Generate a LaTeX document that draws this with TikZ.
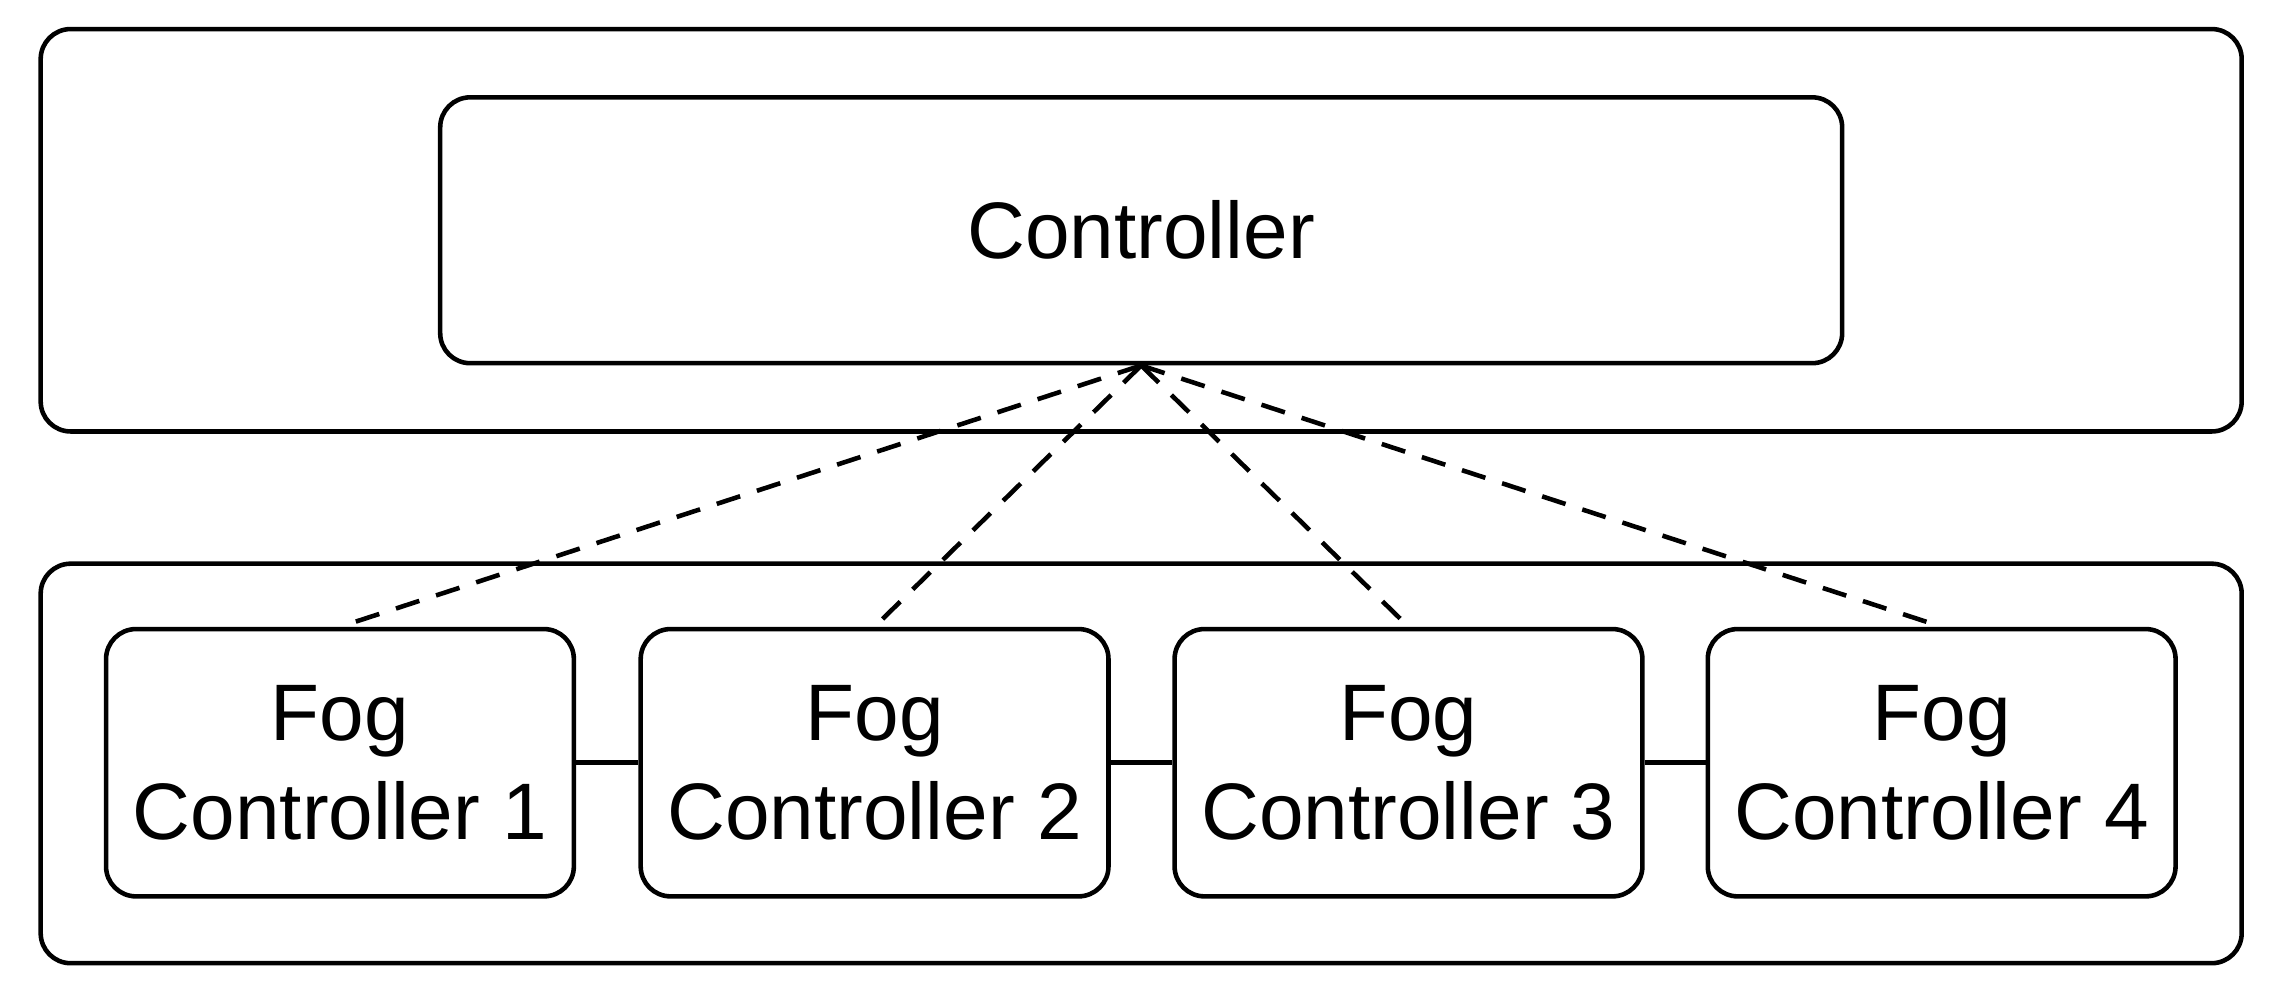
\documentclass[tikz,border=0pt]{standalone}
\usepackage{fontspec}
\setmainfont{Liberation Sans}
\begin{document}
\begin{tikzpicture}[x=0.01453cm,y=-0.01453cm,
  box/.style={draw,line width=1.3pt,rounded corners=0.3cm},
  txt/.style={font=\fontsize{22.8}{28}\selectfont,align=center},
  dashlink/.style={line width=1.3pt,dash pattern=on 7pt off 5pt}]
\useasboundingbox (0,0) rectangle (1568,690);
\draw[box] (28,20) rectangle (1543,297);
\draw[box] (28,388) rectangle (1543,663);
\node[box,minimum width=965*0.01453cm,minimum height=183*0.01453cm,txt] (c) at (785.5,158.5) {Controller};
\foreach \i/\x in {1/234,2/602,3/969.5,4/1336.5}{
  \node[box,minimum width=322*0.01453cm,minimum height=184*0.01453cm,txt,inner sep=0pt] (f\i) at (\x,525) {Fog\\Controller \i};
}
\foreach \i in {1,2,3}{\pgfmathtruncatemacro\j{\i+1}\draw[line width=1.3pt] (f\i.east) -- (f\j.west);}
\foreach \i in {1,2,3,4}{\draw[dashlink] (c.south) -- (f\i.north);}
\end{tikzpicture}
\end{document}
